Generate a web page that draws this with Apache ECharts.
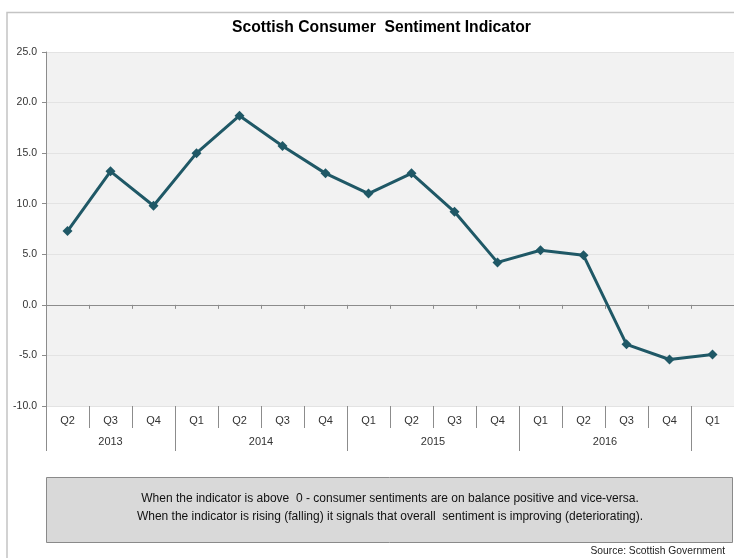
<!DOCTYPE html>
<html>
<head>
<meta charset="utf-8">
<script src="https://cdn.jsdelivr.net/npm/echarts@6/dist/echarts.min.js"></script>
<style>
  html, body { margin: 0; padding: 0; background: #fff; }
  #chart { width: 734px; height: 558px; }
</style>
</head>
<body>
<div id="chart"></div>
<script>
// Quarterly consumer sentiment index, Q2 2013 – Q1 2017
const quarters = ['Q2','Q3','Q4','Q1','Q2','Q3','Q4','Q1','Q2','Q3','Q4','Q1','Q2','Q3','Q4','Q1'];
const periodYear = ['2013','2013','2013','2014','2014','2014','2014','2015','2015','2015','2015','2016','2016','2016','2016',''];
const sentiment = [7.3, 13.2, 9.8, 15.0, 18.7, 15.7, 13.0, 11.0, 13.0, 9.2, 4.2, 5.4, 4.9, -3.9, -5.4, -4.9];
const yTicks = { min: -10, max: 25, step: 5 };

const titleText = 'Scottish Consumer  Sentiment Indicator';
const noteLines = [
  'When the indicator is above  0 - consumer sentiments are on balance positive and vice-versa.',
  'When the indicator is rising (falling) it signals that overall  sentiment is improving (deteriorating).'
];
const sourceText = 'Source: Scottish Government';

// Year groups derived from each period's year
const yearGroups = [];
periodYear.forEach((y, i) => {
  const last = yearGroups[yearGroups.length - 1];
  if (last && last.label === y) last.end = i + 1;
  else yearGroups.push({ label: y, start: i, end: i + 1 });
});
const yearBoundaries = [0].concat(yearGroups.map(g => g.end));
const yearCenters = yearGroups.map(g => (g.start + g.end) / 2);

const FONT = "'Liberation Sans Narrow', 'Arial Narrow', 'Liberation Sans', sans-serif";
const AXIS_GREY = '#8c8c8c';
const LINE_COLOR = '#1f5866';

const chart = echarts.init(document.getElementById('chart'));
chart.setOption({
  animation: false,
  textStyle: { fontFamily: FONT },
  title: {
    text: titleText,
    left: 227,
    top: 15,
    textStyle: { fontFamily: FONT, fontSize: 15.7, fontWeight: 'bold', color: '#000' }
  },
  grid: {
    left: 46, right: 0, top: 52, bottom: 152,
    show: true, backgroundColor: '#f2f2f2', borderWidth: 0
  },
  xAxis: [
    {
      // quarter labels below the plot
      type: 'category',
      data: quarters,
      position: 'bottom',
      axisLine: { show: false, onZero: false },
      axisTick: { show: true, length: 22, lineStyle: { color: AXIS_GREY } },
      axisLabel: { margin: 9, fontSize: 11, color: '#333', fontFamily: FONT },
      splitLine: { show: false }
    },
    {
      // zero line with boundary ticks
      type: 'category',
      data: quarters,
      position: 'top',
      axisLine: { show: true, onZero: true, lineStyle: { color: AXIS_GREY, width: 1 } },
      axisTick: { show: true, inside: true, length: 4, lineStyle: { color: AXIS_GREY } },
      axisLabel: { show: false },
      splitLine: { show: false }
    },
    {
      // year groups
      type: 'value',
      min: 0,
      max: quarters.length,
      position: 'bottom',
      axisLine: { show: false, onZero: false },
      axisTick: { show: true, length: 45, customValues: yearBoundaries, lineStyle: { color: AXIS_GREY } },
      axisLabel: {
        customValues: yearCenters,
        margin: 30,
        fontSize: 11,
        color: '#333',
        fontFamily: FONT,
        formatter: v => {
          const g = yearGroups.find(g => Math.abs((g.start + g.end) / 2 - v) < 1e-6);
          return g ? g.label : '';
        }
      },
      splitLine: { show: false }
    }
  ],
  yAxis: {
    type: 'value',
    min: yTicks.min,
    max: yTicks.max,
    interval: yTicks.step,
    axisLine: { show: true, lineStyle: { color: AXIS_GREY } },
    axisTick: { show: true, length: 4, lineStyle: { color: AXIS_GREY } },
    axisLabel: {
      fontSize: 10.5, color: '#333', margin: 9, fontFamily: FONT,
      padding: [4, 0, 0, 0],
      formatter: v => v.toFixed(1)
    },
    splitLine: { show: true, lineStyle: { color: '#e3e3e3', width: 1 } }
  },
  series: [{
    type: 'line',
    data: sentiment,
    xAxisIndex: 0,
    symbol: 'diamond',
    symbolSize: 10,
    lineStyle: { color: LINE_COLOR, width: 3 },
    itemStyle: { color: LINE_COLOR },
    z: 5
  }],
  graphic: [
    {
      type: 'polyline',
      shape: { points: [[7, 558], [7, 12.5], [734, 12.5]] },
      style: { stroke: '#c4c4c4', lineWidth: 1.5, fill: null },
      silent: true
    },
    {
      type: 'rect',
      shape: { x: 46.5, y: 477.5, width: 686, height: 65 },
      style: { fill: '#d9d9d9', stroke: '#8a8a8a', lineWidth: 1 },
      silent: true
    },
    {
      type: 'text',
      x: 390, y: 499,
      style: {
        text: noteLines[0], fontFamily: FONT, fontSize: 12, fill: '#111',
        align: 'center', verticalAlign: 'middle'
      },
      silent: true
    },
    {
      type: 'text',
      x: 390, y: 517,
      style: {
        text: noteLines[1], fontFamily: FONT, fontSize: 12, fill: '#111',
        align: 'center', verticalAlign: 'middle'
      },
      silent: true
    },
    {
      type: 'text',
      x: 725, y: 551,
      style: {
        text: sourceText, fontFamily: FONT, fontSize: 10.3, fill: '#222',
        align: 'right', verticalAlign: 'middle'
      },
      silent: true
    }
  ]
});
</script>
</body>
</html>
